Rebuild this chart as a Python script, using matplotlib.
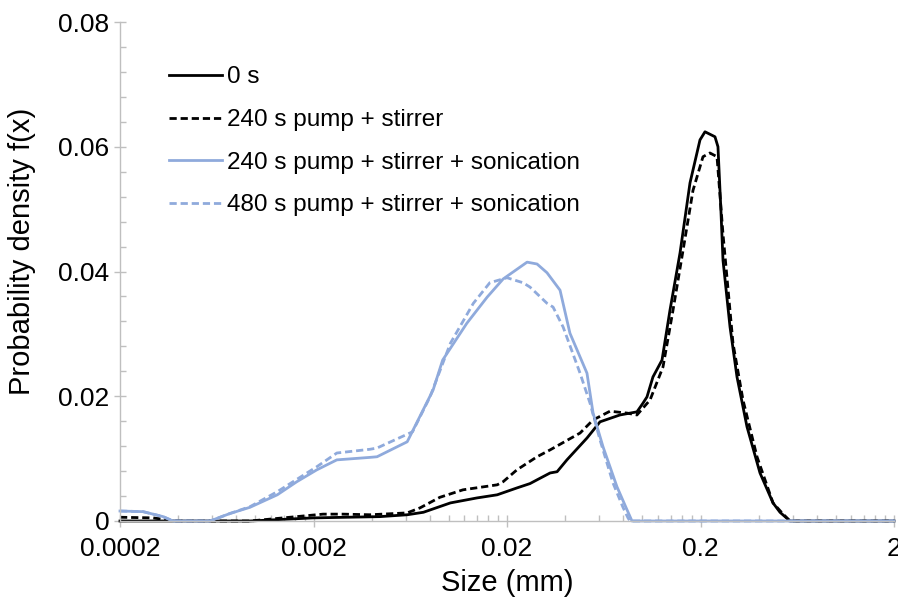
import matplotlib
matplotlib.use("Agg")
import matplotlib.pyplot as plt
from matplotlib.ticker import FixedLocator, NullFormatter

plt.rcParams['font.family'] = ['Liberation Sans', 'DejaVu Sans']

# series: size (mm) / probability density
size_0s = [0.0002, 0.00094, 0.002, 0.0044, 0.0061, 0.0074, 0.0102, 0.014, 0.0178,
           0.0225, 0.0263, 0.0286, 0.0334, 0.0363, 0.0408, 0.0518, 0.0605, 0.0767,
           0.0939, 0.1009, 0.1058, 0.1136, 0.1265, 0.1391, 0.1568, 0.1765, 0.1988,
           0.211, 0.2376, 0.2462, 0.255, 0.2614, 0.2842, 0.3088, 0.3478, 0.406,
           0.474, 0.515, 0.58, 2.0]
pdf_0s = [0.0, 0.0, 0.0005, 0.0007, 0.001, 0.0014, 0.0029, 0.0037, 0.0042,
          0.0053, 0.006, 0.0066, 0.0077, 0.0079, 0.0098, 0.0133, 0.0159, 0.017,
          0.0175, 0.0189, 0.0199, 0.0231, 0.0258, 0.0338, 0.043, 0.0542, 0.0611,
          0.0624, 0.0616, 0.06, 0.0498, 0.0418, 0.0311, 0.0231, 0.0151, 0.0077,
          0.0029, 0.0014, 0.0, 0.0]

size_240 = [0.0002, 0.000296, 0.000385, 0.00094, 0.00151, 0.00224, 0.00284, 0.00392,
            0.0061, 0.0071, 0.009, 0.01185, 0.0178, 0.0191, 0.0225, 0.0286, 0.0334,
            0.0477, 0.0557, 0.0681, 0.0834, 0.0939, 0.1097, 0.128, 0.1442, 0.1625,
            0.1829, 0.206, 0.2238, 0.2434, 0.2614, 0.2944, 0.3316, 0.3918, 0.474,
            0.5276, 0.58, 2.0]
pdf_240 = [0.0006, 0.0005, 0.0, 0.0, 0.0006, 0.0011, 0.0011, 0.001,
           0.0013, 0.0021, 0.0038, 0.005, 0.0058, 0.0063, 0.0082, 0.0103, 0.0114,
           0.0141, 0.0162, 0.0176, 0.0173, 0.017, 0.0194, 0.0247, 0.0338, 0.0434,
           0.053, 0.0584, 0.059, 0.0584, 0.046, 0.0285, 0.0194, 0.0103, 0.0029,
           0.0013, 0.0, 0.0]

size_240s = [0.0002, 0.000263, 0.000334, 0.000376, 0.000584, 0.00074, 0.00094, 0.0013,
             0.00164, 0.00208, 0.00264, 0.00392, 0.00426, 0.0061, 0.0083, 0.0093,
             0.0124, 0.0158, 0.0191, 0.0254, 0.0286, 0.0322, 0.0376, 0.0423, 0.0518,
             0.0557, 0.0627, 0.074, 0.0834, 0.0885, 2.0]
pdf_240s = [0.0016, 0.0015, 0.0007, 0.0, 0.0, 0.0012, 0.0022, 0.0042,
            0.0063, 0.0082, 0.0098, 0.0102, 0.0103, 0.0127, 0.021, 0.0258,
            0.0317, 0.0359, 0.0388, 0.0415, 0.0412, 0.0398, 0.037, 0.0301, 0.0237,
            0.0173, 0.0119, 0.0055, 0.0018, 0.0, 0.0]

size_480s = [0.0002, 0.000263, 0.000334, 0.000376, 0.000584, 0.00074, 0.00094, 0.0013,
             0.00208, 0.00264, 0.00392, 0.00426, 0.0065, 0.008, 0.0102, 0.0134,
             0.0163, 0.02, 0.0242, 0.0263, 0.0322, 0.0346, 0.039, 0.0477, 0.0537,
             0.0605, 0.0706, 0.0795, 0.0844, 0.0864, 2.0]
pdf_480s = [0.0016, 0.0015, 0.0007, 0.0, 0.0, 0.0012, 0.0023, 0.0047,
            0.0087, 0.0109, 0.0115, 0.0117, 0.0143, 0.0199, 0.0285, 0.0349,
            0.0382, 0.039, 0.0382, 0.0375, 0.0349, 0.0343, 0.0311, 0.0237, 0.0189,
            0.013, 0.0061, 0.0022, 0.0005, 0.0, 0.0]

labels = ['0 s', '240 s pump + stirrer', '240 s pump + stirrer + sonication',
          '480 s pump + stirrer + sonication']
xticks = [0.0002, 0.002, 0.02, 0.2, 2]
xticklabels = ['0.0002', '0.002', '0.02', '0.2', '2']

BLUE = '#8FAADC'
GRAY = '#BFBFBF'
DASH = (0, (2.6, 1.4))

fig = plt.figure(figsize=(8.98, 6.02), dpi=100)
ax = fig.add_axes([120/898, 81/602, 774/898, 499/602])

ax.plot(size_0s, pdf_0s, color='black', lw=2, label=labels[0])
ax.plot(size_240, pdf_240, color='black', lw=2, ls=DASH, label=labels[1])
ax.plot(size_240s, pdf_240s, color=BLUE, lw=2, label=labels[2])
ax.plot(size_480s, pdf_480s, color=BLUE, lw=2, ls=DASH, label=labels[3])

ax.set_xscale('log')
ax.set_xlim(0.0002, 2)
ax.set_ylim(0, 0.08)
ax.set_xticks(xticks)
ax.set_xticklabels(xticklabels)
minors = [d * k for d in xticks[:-1] for k in range(2, 10)]
ax.xaxis.set_minor_locator(FixedLocator(minors))
ax.xaxis.set_minor_formatter(NullFormatter())
ax.set_yticks([0, 0.02, 0.04, 0.06, 0.08])
ax.set_yticklabels(['0', '0.02', '0.04', '0.06', '0.08'])
ax.yaxis.set_minor_locator(FixedLocator([i * 0.004 for i in range(21)]))

for s in ['top', 'right']:
    ax.spines[s].set_visible(False)
for s in ['left', 'bottom']:
    ax.spines[s].set_color(GRAY)
    ax.spines[s].set_linewidth(1)
ax.tick_params(which='major', direction='inout', length=9, width=1, color=GRAY,
               labelsize=19, pad=3)
ax.tick_params(which='minor', direction='in', length=4, width=1, color=GRAY)
ax.tick_params(axis='x', which='major', pad=7)

ax.set_xlabel('Size (mm)', fontsize=21)
ax.set_ylabel('Probability density f(x)', fontsize=21)
ax.xaxis.set_label_coords(0.5, -0.124)
ax.xaxis.label.set_va('center')
ax.yaxis.set_label_coords(-0.127, 0.54)
ax.yaxis.label.set_va('center')

ax.legend(loc='upper left', bbox_to_anchor=(0.035, 0.955), frameon=False, fontsize=17.5,
          handlelength=2.2, handletextpad=0.2, labelspacing=0.85)

for l in ax.get_lines():
    l.set_clip_on(False)

fig.savefig('out.png', dpi=100)
